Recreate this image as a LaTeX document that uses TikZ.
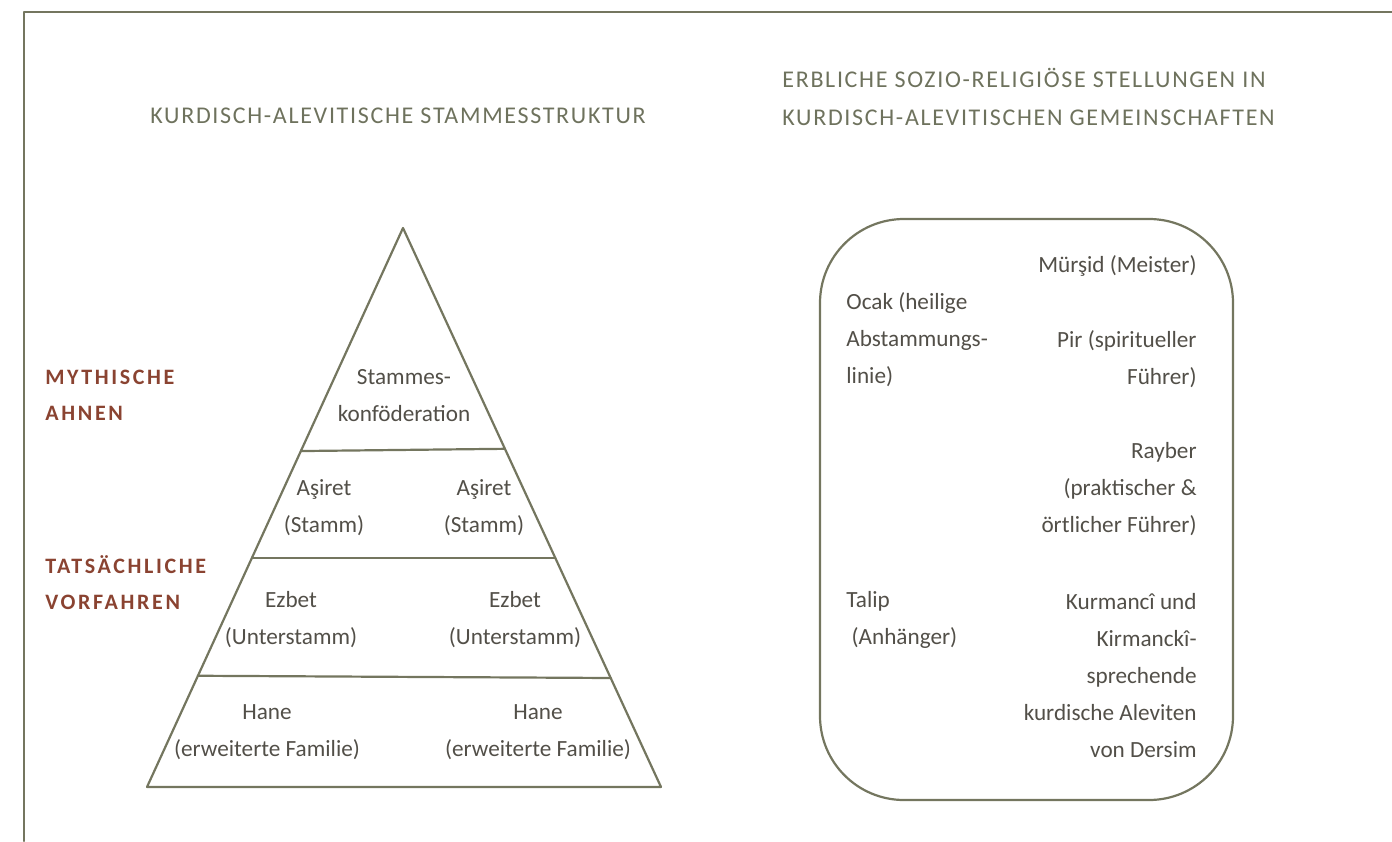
\documentclass[tikz,border=0pt]{standalone}
\usepackage{fontspec}
\setmainfont{Carlito}
\newfontfamily\headfont[LetterSpace=7]{Carlito}
\newfontfamily\tagfont[LetterSpace=12]{Carlito}
\usetikzlibrary{calc,positioning}
\definecolor{linegray}{HTML}{74765F}
\definecolor{headgray}{HTML}{6E725D}
\definecolor{ink}{HTML}{524F48}
\definecolor{rust}{HTML}{8A4331}

\begin{document}
\begin{tikzpicture}[x=0.5pt,y=-0.5pt,line cap=round,line join=round,
  txt/.style={inner sep=0pt,text=ink,align=center,font=\fontsize{11.6}{18.5}\selectfont},
  head/.style={inner sep=0pt,text=headgray,anchor=west,align=left,font=\headfont\fontsize{12}{19}\selectfont},
  tag/.style={inner sep=0pt,text=rust,anchor=west,align=left,font=\tagfont\bfseries\fontsize{11}{18}\selectfont},
  rule/.style={draw=linegray,line width=1.1pt}]
\useasboundingbox (0,0) rectangle (1392,841);
% frame
\draw[rule] (24,841) -- (24,12) -- (1392,12);

% headings
\node[head] (lhead) at (150,116) {KURDISCH-ALEVITISCHE STAMMESSTRUKTUR};
\node[head] (rhead) at (782,97) {ERBLICHE SOZIO-RELIGIÖSE STELLUNGEN IN\\KURDISCH-ALEVITISCHEN GEMEINSCHAFTEN};

% left labels
\node[tag] (mythic) at (45,395) {MYTHISCHE\\AHNEN};
\node[tag] (actual) at (45,583) {TATSÄCHLICHE\\VORFAHREN};

% pyramid
\coordinate (apex) at (403,228);
\coordinate (bl) at (147,787);
\coordinate (br) at (661,787);
\draw[rule] (apex) -- (bl) -- (br) -- cycle;
\draw[rule] ($(apex)!0.399!(bl)$) -- ($(apex)!0.395!(br)$);
\draw[rule] ($(apex)!0.590!(bl)$) -- ($(apex)!0.590!(br)$);
\draw[rule] ($(apex)!0.801!(bl)$) -- ($(apex)!0.805!(br)$);

\node[txt] (conf) at (404,396) {Stammes-\\konföderation};
\node[txt] (asir1) at (324,508) {Aşiret\\(Stamm)};
\node[txt] (asir2) at (484,508) {Aşiret\\(Stamm)};
\node[txt] (ezb1) at (291,620) {Ezbet\\(Unterstamm)};
\node[txt] (ezb2) at (515,620) {Ezbet\\(Unterstamm)};
\node[txt] (hane1) at (267,732) {Hane\\(erweiterte Familie)};
\node[txt] (hane2) at (538,732) {Hane\\(erweiterte Familie)};

% positions box
\draw[rule,rounded corners=42pt] (820,219) rectangle (1233,800);
\node[txt,anchor=east,align=right] (mursid) at (1197,266) {Mürşid (Meister)};
\node[txt,anchor=east,align=right] (pir) at (1197,359) {Pir (spiritueller\\Führer)};
\node[txt,anchor=east,align=right] (rayber) at (1197,489) {Rayber\\(praktischer \&\\örtlicher Führer)};
\node[txt,anchor=east,align=right] (kurm) at (1197,676) {Kurmancî und\\Kirmanckî-\\sprechende\\kurdische Aleviten\\von Dersim};
\node[txt,anchor=west,align=left] (ocak) at (846,340) {Ocak (heilige\\Abstammungs-\\linie)};
\node[txt,anchor=west,align=left] (talip) at (846,620) {Talip\\\ (Anhänger)};
\end{tikzpicture}
\end{document}
